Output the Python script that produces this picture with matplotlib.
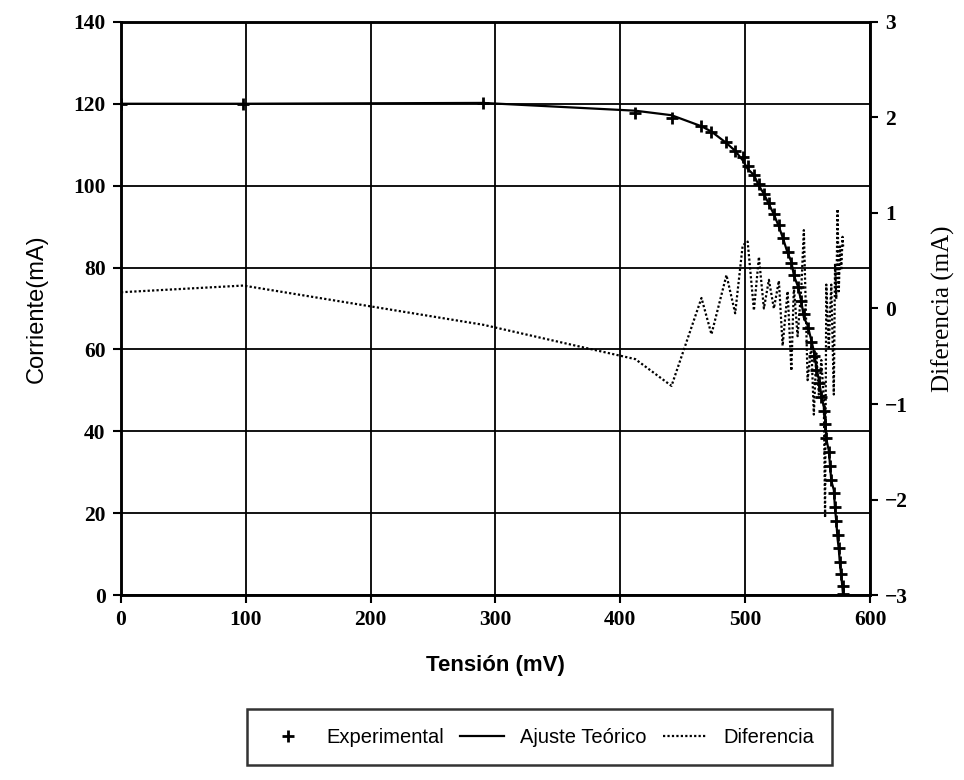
import matplotlib.pyplot as plt

# tension (mV) de los puntos medidos
tension = [0, 98, 290, 412, 441, 465, 473, 485, 492, 498, 502, 507, 511, 515, 519,
           523, 527, 530, 534, 537, 539, 542, 545, 547, 550, 553, 555, 557, 559, 561,
           563, 564, 565, 567, 568, 569, 571, 572, 573, 574, 575, 576, 577, 578, 578.5]

# corriente experimental (mA)
corriente_exp = [120.0, 120.0, 120.1, 117.8, 116.6, 114.6, 113.0, 110.6, 108.5, 106.9,
                 104.8, 102.6, 100.5, 98.0, 95.8, 93.0, 90.3, 87.2, 83.8, 81.0, 78.3,
                 75.3, 71.9, 68.6, 65.2, 61.8, 58.5, 55.1, 51.8, 48.4, 45.0, 41.7, 38.3,
                 34.9, 31.6, 28.2, 24.9, 21.5, 18.1, 14.8, 11.4, 8.0, 5.1, 2.2, 0.4]

# ajuste teorico (mA)
corriente_fit = [120.0, 120.0, 120.2, 118.3, 117.2, 114.5, 113.2, 110.4, 108.5, 106.2,
                 104.1, 102.6, 100.0, 98.0, 95.5, 93.0, 90.0, 87.4, 83.6, 81.4, 78.1,
                 75.6, 71.7, 67.8, 65.9, 62.2, 59.6, 55.6, 52.7, 48.9, 45.9, 44.0, 38.1,
                 35.3, 31.6, 27.9, 25.7, 21.0, 18.0, 13.8, 11.2, 7.3, 4.7, 1.5, -0.2]

# diferencia (mA), eje derecho
diferencia = [0.17, 0.24, -0.17, -0.53, -0.81, 0.11, -0.27, 0.35, -0.05, 0.66,
              0.70, -0.02, 0.54, 0.0, 0.30, 0.0, 0.29, -0.39, 0.18, -0.65, 0.22,
              -0.29, 0.22, 0.82, -0.75, -0.39, -1.11, -0.47, -0.90, -0.54, -0.95,
              -2.19, 0.25, -0.43, -0.04, 0.25, -0.90, 0.47, 0.10, 1.04, 0.18, 0.65,
              0.40, 0.75, 0.65]

tick_font = {'family': 'Liberation Serif', 'weight': 'bold', 'size': 15}

fig = plt.figure(figsize=(9.64, 7.8), dpi=100)
ax = fig.add_axes([0.1255, 0.237, 0.777, 0.735])
ax2 = ax.twinx()

l_exp, = ax.plot(tension, corriente_exp, linestyle='none', marker='+', color='black',
                 markersize=9, markeredgewidth=2, label='Experimental')
l_fit, = ax.plot(tension, corriente_fit, color='black', linewidth=1.6, label='Ajuste Teórico')
l_dif, = ax2.plot(tension, diferencia, color='black', linestyle=(0, (1, 1)),
                  linewidth=1.6, label='Diferencia')

ax.set_xlim(0, 600)
ax.set_ylim(0, 140)
ax2.set_ylim(-3, 3)
ax.set_xticks(range(0, 601, 100))
ax.set_yticks(range(0, 141, 20))
ax2.set_yticks(range(-3, 4))
ax2.set_yticklabels([str(v).replace('-', '\u2212') for v in range(-3, 4)])

ax.grid(True, color='black', linewidth=1.3)
ax.set_axisbelow(True)
for a in (ax, ax2):
    for s in a.spines.values():
        s.set_linewidth(1.8)
    a.tick_params(direction='out', length=6, width=1.5, pad=5)
    for lbl in a.get_xticklabels() + a.get_yticklabels():
        lbl.set_fontproperties(tick_font)
        lbl.set_fontsize(15.5)

ax.set_xlabel('Tensión (mV)', family='Liberation Sans',
              weight='bold', fontsize=16, labelpad=18)
ax.set_ylabel('Corriente(mA)', family='Liberation Sans', fontsize=17, labelpad=18)
ax2.set_ylabel('Diferencia (mA)', family='Liberation Serif', fontsize=18, labelpad=17)

leg = fig.legend(handles=[l_exp, l_fit, l_dif], loc='center', ncol=3,
                 bbox_to_anchor=(0.56, 0.055), frameon=True, fancybox=False,
                 edgecolor='black', handlelength=2.2, columnspacing=0.8,
                 borderpad=0.9, prop={'family': 'Liberation Sans', 'size': 14.5})
leg.get_frame().set_linewidth(1.8)

fig.savefig('out.png', dpi=100)
